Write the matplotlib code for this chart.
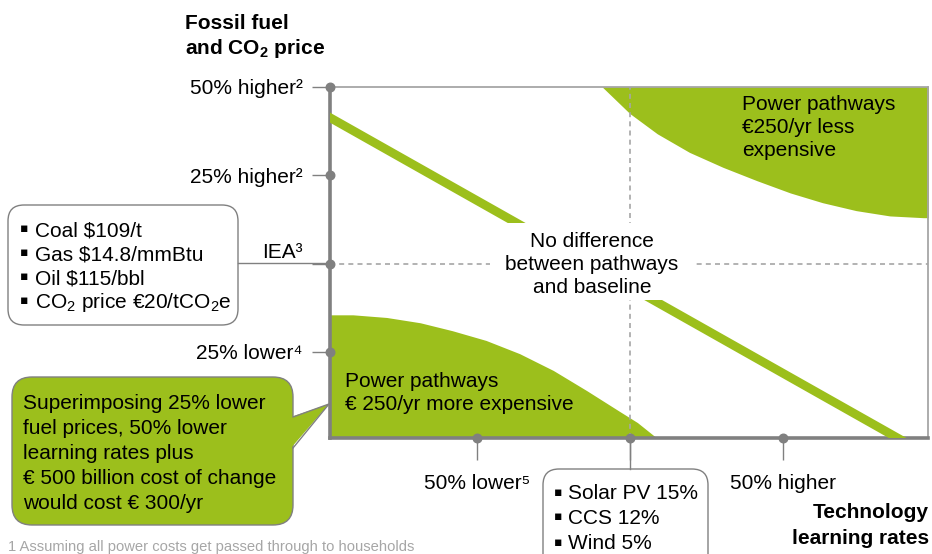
import matplotlib
matplotlib.use("Agg")
import matplotlib.pyplot as plt
from matplotlib.patches import FancyBboxPatch, Polygon, Rectangle

# ---------------------------------------------------------------- data
y_tick_vals = [-1, 0, 1, 2]
y_tick_labels = ["25% lower⁴", "", "25% higher²", "50% higher²"]
x_tick_vals = [-1, 0, 1]
x_tick_labels = ["50% lower⁵", "", "50% higher"]

# boundary of the zone where pathways are cheaper than baseline
less_x = [-0.18, 0.00, 0.18, 0.39, 0.61, 0.83, 1.05, 1.26, 1.48, 1.70, 1.92, 1.98]
less_y = [2.00, 1.70, 1.47, 1.26, 1.09, 0.94, 0.80, 0.69, 0.60, 0.54, 0.52, 0.52]
# boundary of the zone where pathways are more expensive than baseline
more_x = [-2.00, -1.81, -1.59, -1.37, -1.16, -0.94, -0.72, -0.50, -0.28, -0.07, 0.05, 0.18]
more_y = [-0.58, -0.58, -0.61, -0.67, -0.76, -0.87, -1.02, -1.21, -1.44, -1.67, -1.80, -1.98]
# break-even line
parity_x = [-2.10, 1.90]
parity_y = [1.79, -2.12]

fuel_assumptions = ["Coal $109/t", "Gas $14.8/mmBtu", "Oil $115/bbl",
                    r"CO$_\mathregular{2}$ price €20/tCO$_\mathregular{2}$e"]
learning_rates = ["Solar PV 15%", "CCS 12%", "Wind 5%"]
callout_lines = ["Superimposing 25% lower", "fuel prices, 50% lower",
                 "learning rates plus", "€ 500 billion cost of change",
                 "would cost € 300/yr"]

# ---------------------------------------------------------------- style
GREEN = "#9CBF1C"
AXIS_GREY = "#808080"
LIGHT_GREY = "#A6A6A6"
FS = 15

plt.rcParams["font.family"] = ["Liberation Sans", "DejaVu Sans"]
plt.rcParams["mathtext.fontset"] = "custom"
plt.rcParams["mathtext.rm"] = "Liberation Sans"
plt.rcParams["mathtext.bf"] = "Liberation Sans:bold"

W, H = 932, 554
fig = plt.figure(figsize=(W / 100, H / 100), dpi=100)

# pixel-space layer for the surrounding annotations
ov = fig.add_axes([0, 0, 1, 1])
ov.set_xlim(0, W)
ov.set_ylim(H, 0)
ov.axis("off")
ov.set_zorder(0)

ax = fig.add_axes([330 / W, (H - 438) / H, (928 - 330) / W, (438 - 87) / H])
ax.set_zorder(1)
ax.set_xlim(-1.96, 1.95)
ax.set_ylim(-1.975, 2.0)

# zones and break-even line
ax.fill_between(less_x, less_y, 2.3, color=GREEN, lw=0, zorder=1)
ax.fill_between(more_x, more_y, -2.3, color=GREEN, lw=0, zorder=1)
ax.plot(parity_x, parity_y, color=GREEN, lw=6.3, solid_capstyle="butt", zorder=3)

# reference (IEA) cross-hair
ax.axvline(0, color=LIGHT_GREY, lw=1.2, ls=(0, (3, 2.5)), zorder=2)
ax.axhline(0, color=LIGHT_GREY, lw=1.2, ls=(0, (3, 2.5)), zorder=2)

# spines
for side in ("left", "bottom"):
    ax.spines[side].set_color(AXIS_GREY)
    ax.spines[side].set_linewidth(2.6)
for side in ("top", "right"):
    ax.spines[side].set_color(LIGHT_GREY)
    ax.spines[side].set_linewidth(1.3)

# ticks
ax.set_yticks(y_tick_vals, y_tick_labels)
ax.set_xticks(x_tick_vals, x_tick_labels)
ax.tick_params(axis="y", length=13, width=1, color=AXIS_GREY, pad=6.5, labelsize=FS)
ax.tick_params(axis="x", length=16, width=1, color=AXIS_GREY, pad=10, labelsize=FS)
ax.scatter([ax.get_xlim()[0]] * len(y_tick_vals), y_tick_vals, s=38,
           color=AXIS_GREY, clip_on=False, zorder=6)
ax.scatter(x_tick_vals, [ax.get_ylim()[0]] * len(x_tick_vals), s=38,
           color=AXIS_GREY, clip_on=False, zorder=6)

ax.annotate("IEA³", xy=(0, 0), xycoords=("axes fraction", "data"),
            xytext=(-19.4, 1.5), textcoords="offset points",
            ha="right", va="bottom", fontsize=FS)

# labels inside the plot area (positioned in pixel space)
pt = ov.transData
ax.add_patch(Rectangle((490, 223), 203, 77, transform=pt, facecolor="white",
                       edgecolor="none", zorder=4))
for yy, s in zip([240, 263, 286], ["No difference", "between pathways", "and baseline"]):
    ax.text(592, yy + 7, s, transform=pt, ha="center", va="baseline",
            fontsize=FS, zorder=5)
for yy, s in zip([380, 403], ["Power pathways", "€ 250/yr more expensive"]):
    ax.text(345, yy + 7, s, transform=pt, ha="left", va="baseline",
            fontsize=FS, zorder=5)
for yy, s in zip([103, 126, 149], ["Power pathways", "€250/yr less", "expensive"]):
    ax.text(742, yy + 7, s, transform=pt, ha="left", va="baseline",
            fontsize=FS, zorder=5)

# ---------------------------------------------------------------- outside annotations
ov.text(185, 22 + 7, "Fossil fuel", fontsize=FS, fontweight="bold", va="baseline")
ov.text(185, 47 + 7, r"and CO$_\mathregular{2}$ price", fontsize=FS,
        fontweight="bold", va="baseline")

# fuel price assumptions box
ov.add_patch(FancyBboxPatch((8, 205), 230, 120, boxstyle="round,pad=0,rounding_size=16",
                            facecolor="white", edgecolor=AXIS_GREY, lw=1))
ov.plot([238, 330], [263, 263], color=AXIS_GREY, lw=1)
for yy, s in zip([229, 253, 277, 301], fuel_assumptions):
    ov.text(20, yy, "▪", fontsize=9, va="center", family="DejaVu Sans")
    ov.text(35, yy + 7, s, fontsize=FS, va="baseline")

# learning rate assumptions box
ov.add_patch(FancyBboxPatch((543, 469), 165, 110, boxstyle="round,pad=0,rounding_size=16",
                            facecolor="white", edgecolor=AXIS_GREY, lw=1))
ov.plot([630, 630], [438, 469], color=AXIS_GREY, lw=1)
for yy, s in zip([492, 517, 542], learning_rates):
    ov.text(554, yy, "▪", fontsize=9, va="center", family="DejaVu Sans")
    ov.text(568, yy + 7, s, fontsize=FS, va="baseline")

ov.text(929, 511 + 7, "Technology", fontsize=FS, fontweight="bold",
        ha="right", va="baseline")
ov.text(929, 537 + 7, "learning rates", fontsize=FS, fontweight="bold",
        ha="right", va="baseline")

# green speech bubble
ov.add_patch(FancyBboxPatch((12, 377), 281, 148, boxstyle="round,pad=0,rounding_size=20",
                            facecolor=GREEN, edgecolor=AXIS_GREY, lw=1, zorder=2))
ov.add_patch(Polygon([(291, 417), (329, 404), (291, 448)], closed=True,
                     facecolor=GREEN, edgecolor="none", zorder=3))
ov.plot([293, 329, 293], [417, 404, 448], color=AXIS_GREY, lw=1, zorder=3)
for yy, s in zip([402, 427, 452, 477, 502], callout_lines):
    ov.text(23, yy + 7, s, fontsize=FS, va="baseline", zorder=4)

ov.text(8, 546 + 5, "1 Assuming all power costs get passed through to households",
        fontsize=10.6, color=LIGHT_GREY, va="baseline")

fig.savefig("out.png", dpi=100)
